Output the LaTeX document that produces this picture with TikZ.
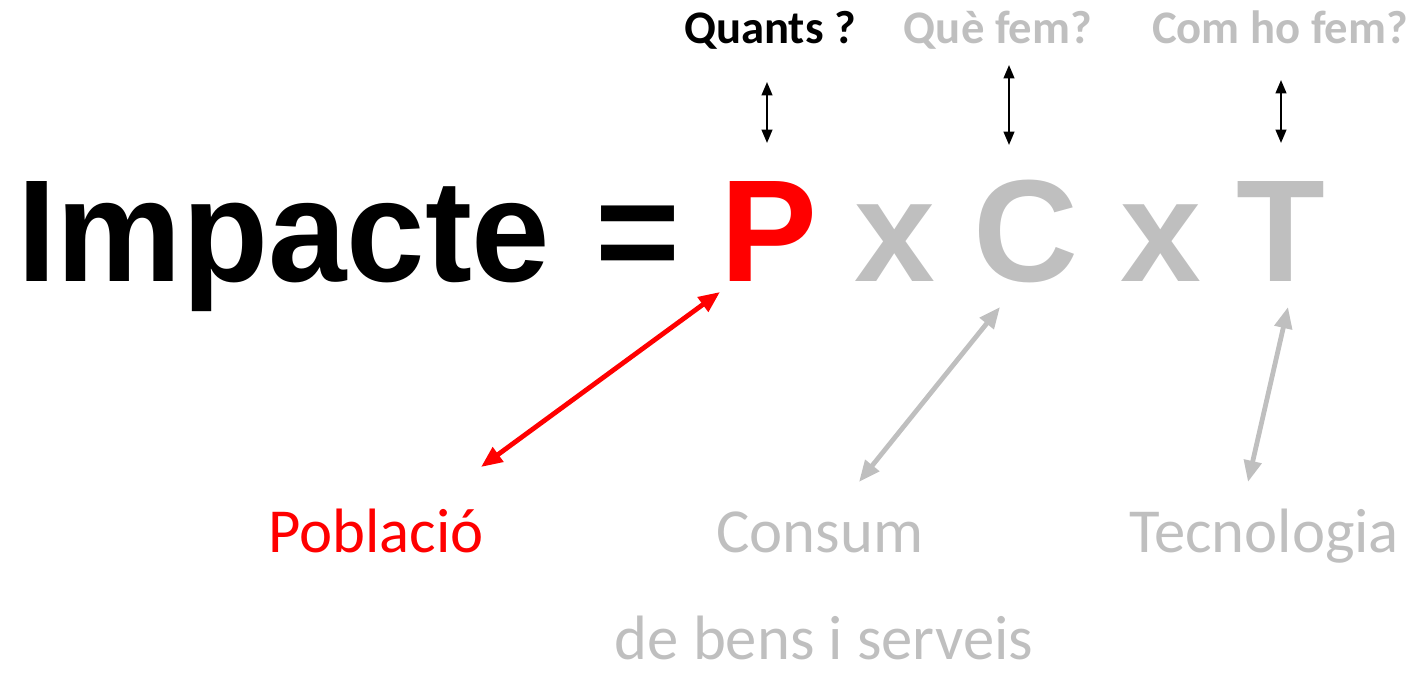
\documentclass[tikz,border=0pt]{standalone}
\usepackage{fontspec}
\setmainfont{Carlito}
\newfontfamily\eqfont{Liberation Sans}
\usetikzlibrary{arrows.meta}
\definecolor{lgray}{RGB}{191,191,191}
\definecolor{pred}{RGB}{255,0,0}
\begin{document}
\begin{tikzpicture}[x=0.75pt,y=-0.75pt,
  eq/.style={anchor=base, inner sep=0pt, font=\eqfont\bfseries\fontsize{109}{109}\selectfont},
  qlabel/.style={anchor=base, inner sep=0pt, font=\bfseries\fontsize{35}{35}\selectfont},
  blabel/.style={anchor=base, inner sep=0pt, font=\fontsize{47}{47}\selectfont},
  smallarrow/.style={{Triangle[length=10pt,width=8pt]}-{Triangle[length=10pt,width=8pt]}, line width=1.5pt, black},
  bigarrow/.style={{Triangle[length=16pt,width=13pt]}-{Triangle[length=16pt,width=13pt]}, line width=3.6pt}
]
\useasboundingbox (0,0) rectangle (1428,673);
% equation
\node[eq, text=black] (imp) at (284,282) {\scalebox{0.97}[1]{Impacte}};
\node[eq, text=black] (eqs) at (638,282) {=};
\node[eq, text=pred] (P) at (769,282) {P};
\node[eq, text=lgray] (x1) at (895,282) {x};
\node[eq, text=lgray] (C) at (1026,282) {C};
\node[eq, text=lgray] (x2) at (1161,282) {x};
\node[eq, text=lgray] (T) at (1281,282) {T};
% top labels
\node[qlabel, text=black] (q1) at (770,44) {Quants ?};
\node[qlabel, text=lgray] (q2) at (998,44) {Què fem?};
\node[qlabel, text=lgray] (q3) at (1280,44) {Com ho fem?};
% bottom labels
\node[blabel, text=pred] (pob) at (376,552) {Població};
\node[blabel, text=lgray] (cons) at (820,552) {Consum};
\node[blabel, text=lgray] (tec) at (1264,552) {Tecnologia};
\node[blabel, text=lgray] (bens) at (824,659) {de bens i serveis};
% arrow end points
\coordinate (a1t) at (767,82);  \coordinate (a1b) at (767,143);
\coordinate (a2t) at (1009,65); \coordinate (a2b) at (1009,145);
\coordinate (a3t) at (1281,80); \coordinate (a3b) at (1281,143);
\coordinate (rP) at (720,292);  \coordinate (rPob) at (481,467);
\coordinate (gC) at (1000,307); \coordinate (gCons) at (859,482);
\coordinate (gT) at (1288,307); \coordinate (gTec) at (1248,482);
\draw[smallarrow] (a1t) -- (a1b);
\draw[smallarrow] (a2t) -- (a2b);
\draw[smallarrow] (a3t) -- (a3b);
\draw[bigarrow, pred] (rP) -- (rPob);
\draw[bigarrow, lgray] (gC) -- (gCons);
\draw[bigarrow, lgray] (gT) -- (gTec);
\end{tikzpicture}
\end{document}
